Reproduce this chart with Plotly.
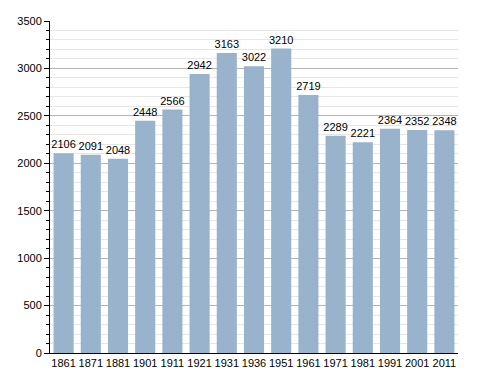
import plotly.graph_objects as go

years = ["1861", "1871", "1881", "1901", "1911", "1921", "1931", "1936", "1951", "1961", "1971", "1981", "1991", "2001", "2011"]
population = [2106, 2091, 2048, 2448, 2566, 2942, 3163, 3022, 3210, 2719, 2289, 2221, 2364, 2352, 2348]
y_ticks = [0, 500, 1000, 1500, 2000, 2500, 3000, 3500]

fig = go.Figure()
fig.add_trace(go.Bar(
    x=years, y=population,
    marker=dict(color="#9ab3cd", line=dict(width=0)),
    text=[str(v) for v in population], textposition="outside",
    textfont=dict(family="Liberation Sans, Arial", size=11, color="black"),
    cliponaxis=False,
))
fig.update_layout(
    width=480, height=365,
    margin=dict(l=42, r=30, t=13, b=20, autoexpand=False),
    plot_bgcolor="white", paper_bgcolor="white",
    bargap=0.26, showlegend=False,
    font=dict(family="Liberation Sans, Arial", size=11, color="black"),
    uniformtext=dict(minsize=10, mode="show"),
)
fig.update_xaxes(
    type="category", showline=True, linecolor="black", linewidth=1,
    ticks="", tickfont=dict(size=11), showgrid=False, automargin=False,
)
fig.update_yaxes(
    range=[0, 3500], tickvals=y_ticks, showline=True, linecolor="black", linewidth=1,
    ticks="outside", ticklen=5, tickcolor="black", tickfont=dict(size=11),
    showgrid=True, gridcolor="#b4b4b4", gridwidth=1, zeroline=False, automargin=False,
    minor=dict(dtick=100, showgrid=True, gridcolor="#e6e6e6", ticks="outside", ticklen=3, tickcolor="black"),
)
fig.write_html("out.html")
